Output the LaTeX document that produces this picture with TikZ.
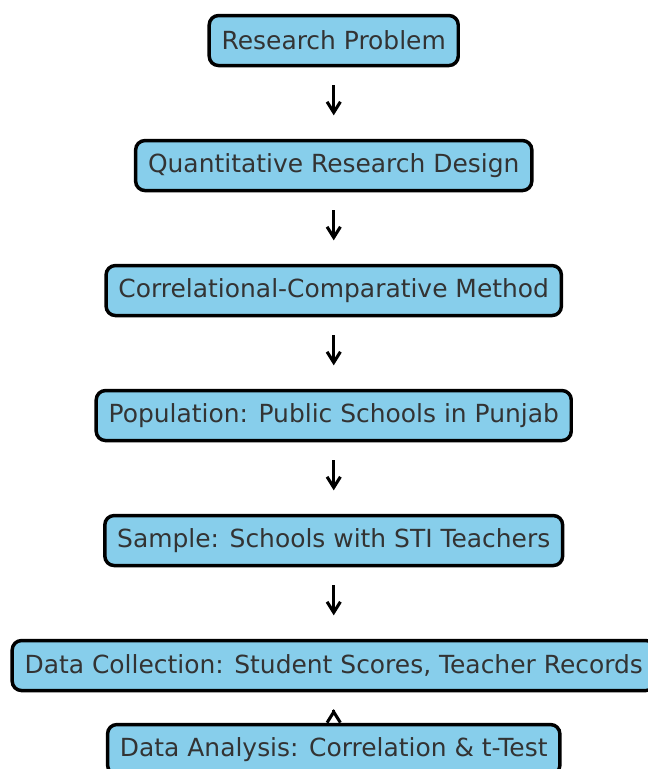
\documentclass[tikz,border=0pt]{standalone}
\usepackage{fontspec}
\setmainfont{DejaVu Sans}
\usetikzlibrary{positioning,arrows.meta}
\definecolor{boxfill}{HTML}{87CEEB}
\definecolor{boxtext}{HTML}{333333}

\begin{document}
\begin{tikzpicture}
	\tikzstyle{main}=[rectangle, rounded corners=7pt, draw=black, line width=2.6pt, fill=boxfill, text=boxtext, minimum height=37.5pt, inner xsep=9.3pt, font=\fontsize{18.7}{22}\selectfont, node distance=53.65pt]
	\tikzstyle{connect}=[-{Straight Barb[length=8pt,width=10pt]}, line width=2.3pt, shorten <=13.4pt, shorten >=17.6pt]
	\useasboundingbox (0,0) rectangle (486pt,-576.75pt);
	\node[main] (problem) at (250.3pt,-30.4pt) {Research Problem};
	\node[main] (design) [below=of problem] {Quantitative Research Design};
	\node[main] (method) [below=of design] {Correlational-Comparative Method};
	\node[main] (population) [below=of method] {Population: Public Schools in Punjab};
	\node[main] (sample) [below=of population] {Sample: Schools with STI Teachers};
	\node[main] (collect) [below=of sample] {Data Collection: Student Scores, Teacher Records};
	\node[main] (analysis) [below=22.9pt of collect] {Data Analysis: Correlation \& t-Test};
	\path
	(problem) edge [connect] (design)
	(design) edge [connect] (method)
	(method) edge [connect] (population)
	(population) edge [connect] (sample)
	(sample) edge [connect] (collect)
	(analysis) edge [connect, shorten <=9.6pt, shorten >=12.6pt] (collect);
\end{tikzpicture}
\end{document}
